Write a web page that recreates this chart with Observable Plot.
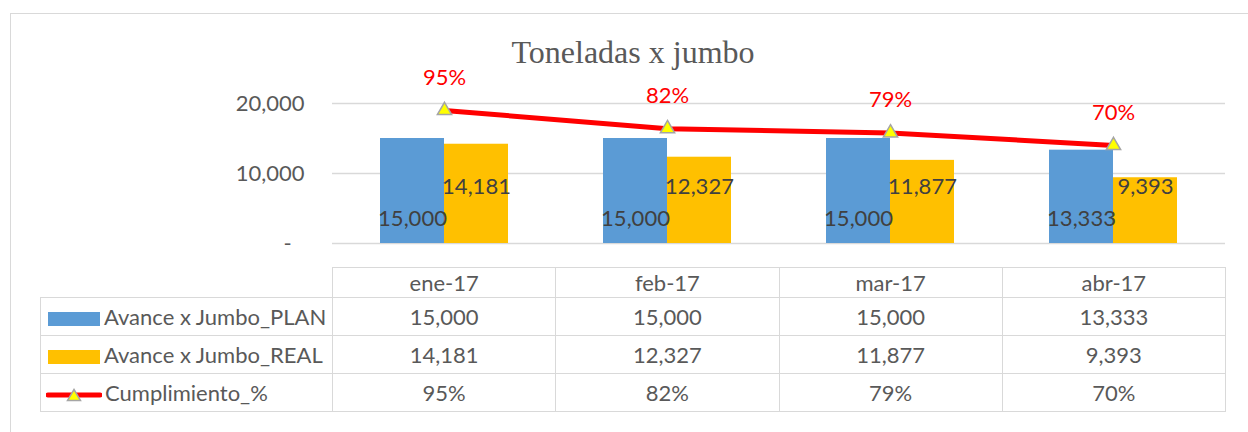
<!DOCTYPE html>
<html>
<head>
<meta charset="utf-8">
<script src="https://cdn.jsdelivr.net/npm/d3@7"></script>
<script src="https://cdn.jsdelivr.net/npm/@observablehq/plot@0.6"></script>
<style>
  html, body { margin: 0; padding: 0; background: #fff; overflow: hidden; }
  #wrap { position: relative; width: 1248px; height: 432px; font-family: Lato, "Noto Sans", sans-serif; }
  #frame { position: absolute; left: 10px; top: 13px; width: 1260px; height: 440px; border-left: 1.5px solid #d9d9d9; border-top: 1.5px solid #d9d9d9; }
  #title { position: absolute; left: 0; width: 1266px; top: 36px; text-align: center; font-family: "Liberation Serif", "Times New Roman", serif; font-size: 32px; line-height: 32px; color: #595959; }
  #chart { position: absolute; left: 0; top: 0; }
  #tbl { position: absolute; left: 40px; top: 267px; border-collapse: collapse; table-layout: fixed; font-family: Lato, sans-serif; font-size: 22px; color: #595959; }
  #tbl td { border: 1.5px solid #d9d9d9; text-align: center; padding: 0; white-space: nowrap; }
  #tbl td.blank { border: none; border-bottom: 1.5px solid #d9d9d9; }
  #tbl td.lab { text-align: left; }
  .key { display: inline-block; vertical-align: middle; margin-left: 7px; margin-right: 4px; }
</style>
</head>
<body>
<div id="wrap">
  <div id="frame"></div>
  <div id="chart"></div>
  <div id="title">Toneladas x jumbo</div>
  <table id="tbl"></table>
</div>
<script>
const months = ["ene-17", "feb-17", "mar-17", "abr-17"];
const planValues = [15000, 15000, 15000, 13333];
const realValues = [14181, 12327, 11877, 9393];
const pctValues = [0.95, 0.82, 0.79, 0.70];
const yTicks = [0, 10000, 20000];
const seriesNames = ["Avance x Jumbo_PLAN", "Avance x Jumbo_REAL", "Cumplimiento_%"];

const colPlan = "#5B9BD5", colReal = "#FFC000", colLine = "#FF0000";
const fmt = d3.format(",");
const fmtPct = d3.format(".0%");

const data = months.map((m, i) => ({month: m, plan: planValues[i], real: realValues[i], pct: pctValues[i]}));
// secondary axis 0–100% spans the same height as 0–20,000
const pctY = d => d.pct * 20000;

const plot = Plot.plot({
  width: 1248,
  height: 265,
  marginLeft: 332,
  marginRight: 23,
  marginTop: 103,
  marginBottom: 22,
  style: {fontFamily: "Lato, sans-serif", fontSize: "22px", color: "#595959", background: "transparent", overflow: "visible"},
  x: {domain: months, paddingInner: 0.4267, paddingOuter: 0.2133, axis: null},
  y: {domain: [0, 20000], ticks: yTicks, tickFormat: d => d === 0 ? "-\u2007" : fmt(d), tickSize: 0, tickPadding: 28, label: null},
  marks: [
    Plot.ruleY(yTicks, {stroke: "#d9d9d9", strokeWidth: 1.5}),
    Plot.barY(data, {x: "month", y: "plan", fill: colPlan, insetRight: 64}),
    Plot.barY(data, {x: "month", y: "real", fill: colReal, insetLeft: 64}),
    Plot.text(data, {x: "month", y: 0, text: d => fmt(d.plan), dx: -32, dy: -25, fill: "#404040", fontSize: 22}),
    Plot.text(data, {x: "month", y: 0, text: d => fmt(d.real), dx: 32, dy: -57, fill: "#404040", fontSize: 22}),
    Plot.line(data, {x: "month", y: pctY, stroke: colLine, strokeWidth: 5}),
    Plot.dot(data, {x: "month", y: pctY, symbol: "triangle", r: 5.3, fill: "#FFFF00", stroke: "#A5A5A5", strokeWidth: 1.5}),
    Plot.text(data, {x: "month", y: pctY, text: d => fmtPct(d.pct), dy: -33, fill: colLine, fontSize: 22})
  ]
});
document.getElementById("chart").appendChild(plot);

// data table under the chart
const tbl = document.getElementById("tbl");
const colgroup = document.createElement("colgroup");
[292, 223.25, 223.25, 223.25, 223.25].forEach(w => {
  const c = document.createElement("col"); c.style.width = w + "px"; colgroup.appendChild(c);
});
tbl.appendChild(colgroup);

function keySvg(i) {
  if (i < 2) {
    return `<svg class="key" width="52" height="14"><rect width="52" height="14" fill="${i === 0 ? colPlan : colReal}"/></svg>`;
  }
  return `<svg class="key" width="56" height="16" style="margin-left:5px;margin-right:3px"><line x1="2" x2="54" y1="8" y2="8" stroke="${colLine}" stroke-width="5" stroke-linecap="round"/><path d="M28,2.5 L34.5,13.5 L21.5,13.5 Z" fill="#FFFF00" stroke="#A5A5A5" stroke-width="1.5"/></svg>`;
}

const head = document.createElement("tr");
head.style.height = "30px";
head.innerHTML = `<td class="blank"></td>` + months.map(m => `<td>${m}</td>`).join("");
tbl.appendChild(head);

const rows = [planValues.map(fmt), realValues.map(fmt), pctValues.map(fmtPct)];
rows.forEach((vals, i) => {
  const tr = document.createElement("tr");
  tr.style.height = "38px";
  tr.innerHTML = `<td class="lab">${keySvg(i)}${seriesNames[i]}</td>` + vals.map(v => `<td>${v}</td>`).join("");
  tbl.appendChild(tr);
});
</script>
</body>
</html>
